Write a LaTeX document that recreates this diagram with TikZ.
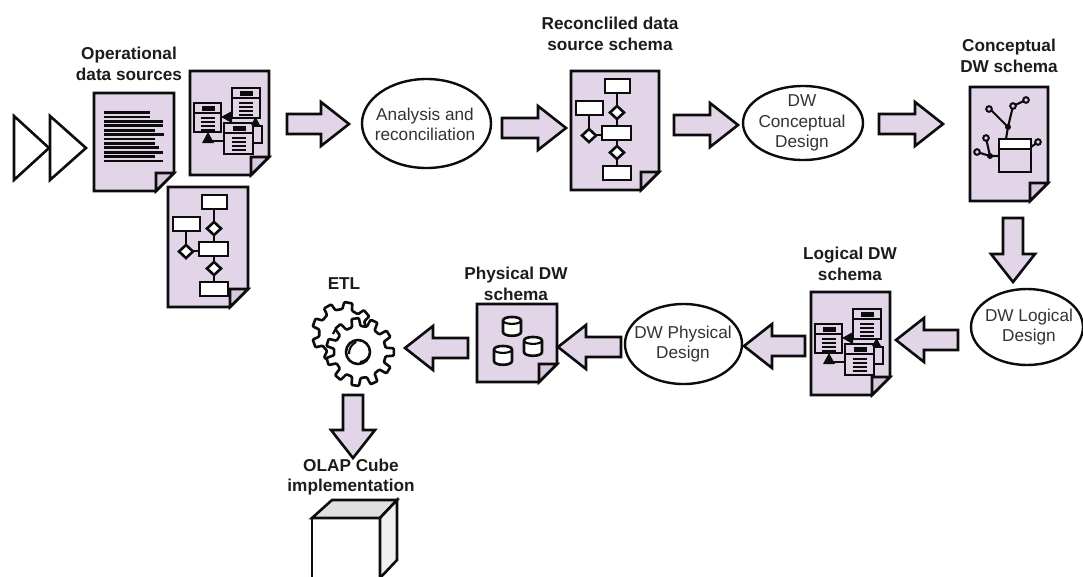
\documentclass[tikz,border=0pt]{standalone}
\usepackage{fontspec}
\setmainfont{Liberation Sans}
\usetikzlibrary{calc,shapes.geometric}
\definecolor{lilac}{HTML}{E2D5E8}
\definecolor{fold}{HTML}{D6C8DE}
\definecolor{inkc}{HTML}{0C0C0C}
\definecolor{txt}{HTML}{1C1C1C}
\definecolor{txtg}{HTML}{333333}
\tikzset{
 ln/.style={draw=inkc,line width=2.6pt,line join=miter},
 thin ln/.style={draw=inkc,line width=2.1pt},
 ell/.style={draw=inkc,line width=2.4pt,fill=white,ellipse,inner sep=0pt},
 elltext/.style={font=\fontsize{17.2}{20.5}\selectfont,text=txtg,align=center,inner sep=0pt},
 title/.style={font=\fontsize{17.2}{20.5}\selectfont\bfseries,text=txt,align=center,inner sep=0pt},
 tline/.style={draw=inkc,line width=2.7pt},
}
% block arrow between two named coordinates
\newcommand{\blockarrow}[2]{%
 \draw[ln,fill=lilac]
  ($(#1)!10pt!90:(#2)$) --
  ($(#2)!28pt!(#1)!10pt!90:(#2)$) --
  ($(#2)!28pt!(#1)!22pt!90:(#2)$) --
  (#2) --
  ($(#2)!28pt!(#1)!22pt!-90:(#2)$) --
  ($(#2)!28pt!(#1)!10pt!-90:(#2)$) --
  ($(#1)!10pt!-90:(#2)$) -- cycle;}
% page with folded corner, origin at top left
\newcommand{\docpage}[2]{%
 \draw[ln,fill=lilac] (0,0) -- (#1,0) -- ({#1},{#2-18}) -- ({#1-18},#2) -- (0,#2) -- cycle;
 \draw[ln,fill=fold] ({#1},{#2-18}) -- ({#1-18},{#2-18}) -- ({#1-18},#2) -- cycle;}
\newcommand{\flowicon}{%
 \draw[thin ln] (46,21) -- (46,94);
 \draw[thin ln] (18,43) -- (18,64) -- (32,64);
 \draw[ln,fill=white] (34,8) rectangle (59,22);
 \draw[ln,fill=white] (5,30) rectangle (32,44);
 \draw[ln,fill=white] (31,55) rectangle (60,69);
 \draw[ln,fill=white] (32,95) rectangle (60,109);
 \foreach \cx/\cy in {46/41.5,18/64.5,46/81.5}
  \draw[ln,fill=white] ({\cx-7},\cy) -- (\cx,{\cy-6.5}) -- ({\cx+7},\cy) -- (\cx,{\cy+6.5}) -- cycle;}
% small table: x1 y1 x2 y2
\newcommand{\tbl}[4]{%
 \draw[ln,fill=lilac] (#1,#2) rectangle (#3,#4);
 \draw[thin ln] (#1,{#2+10}) -- (#3,{#2+10});
 \fill[inkc] ({(#1+#3)/2-6},{#2+3}) rectangle ({(#1+#3)/2+7},{#2+8});
 \foreach \k in {14.5,18.8,23,27}
  \draw[line width=2pt,draw=inkc] ({(#1+#3)/2-7},{#2+\k}) -- ({(#1+#3)/2+7},{#2+\k});}
\newcommand{\ericon}{%
 \draw[thin ln] (34,70) -- (18,70);
 \fill[inkc] (12,72) -- (18,61) -- (24,72) -- cycle;
 \draw[thin ln] (63,55) -- (72,55) -- (72,72) -- (63,72);
 \tbl{42}{17}{70}{47}
 \tbl{4}{32}{31}{61}
 \fill[inkc] (31,46) -- (42,40) -- (42,52) -- cycle;
 \tbl{34}{52}{63}{83}
 \fill[inkc] (61,54) -- (65.5,46) -- (70,54) -- cycle;}
\newcommand{\cyl}[2]{%
 \begin{scope}[shift={(#1,#2)}]
 \draw[ln,fill=white] (-9,3.5) -- (-9,15) .. controls (-9,20) and (9,20) .. (9,15) -- (9,3.5) .. controls (9,-1.2) and (-9,-1.2) .. (-9,3.5) -- cycle;
 \draw[thin ln] (-9,3.5) .. controls (-9,8) and (9,8) .. (9,3.5);
 \end{scope}}
% gear
\newcommand{\gear}[5]{%#1 cx #2 cy #3 r in #4 r out #5 teeth
 \pgfmathsetmacro{\stp}{360/#5}
 \draw[ln,fill=white,rounded corners=1pt,shift={(#1,#2)}]
  ({-\stp*0.29}:#3)
  \foreach \i in {1,...,#5}{
    -- ({(\i-1)*\stp-\stp*0.29}:#3)
    -- ({(\i-1)*\stp-\stp*0.19}:#4)
    -- ({(\i-1)*\stp+\stp*0.19}:#4)
    -- ({(\i-1)*\stp+\stp*0.29}:#3)
  } -- cycle;}
\begin{document}
\begin{tikzpicture}[x=1pt,y=-1pt]
\useasboundingbox (0,0) rectangle (1083,576);
\fill[white] (0,0) rectangle (1083,576);

% entry triangles
\draw[ln,fill=white] (14,116) -- (49,148) -- (14,180) -- cycle;
\draw[ln,fill=white] (50,116) -- (86,148) -- (50,180) -- cycle;

% source pages
\begin{scope}[shift={(94,93)}]
 \docpage{80}{98}
 \foreach \yy/\xx in {24/56,28.4/69,32.8/69,37.2/61,41.6/70,46/61,50.4/61,54.8/65,59.2/69,63.6/61,68/69}
  \draw[tline] (10,\yy) -- (\xx,\yy);
 \draw[tline] (10,19.6) -- (56,19.6);
\end{scope}
\begin{scope}[shift={(190,71)}]\docpage{79}{104}\ericon\end{scope}
\begin{scope}[shift={(168,187)}]\docpage{80}{120}\flowicon\end{scope}

% reconciled
\begin{scope}[shift={(571,71)}]\docpage{88}{119}\flowicon\end{scope}

% conceptual
\begin{scope}[shift={(970,87)}]\docpage{78}{114}\end{scope}
\draw[thin ln] (1006,139) -- (1008,127) -- (990,109);
\draw[thin ln] (1008,127) -- (1013,106) -- (1026,100);
\draw[thin ln] (999,156) -- (990,156) -- (977,152);
\draw[thin ln] (990,156) -- (986,138);
\draw[thin ln] (1031,147) -- (1038,142);
\draw[ln,fill=lilac] (999,139) rectangle (1031,172);
\draw[ln,fill=white] (999,139) rectangle (1031,149);
\foreach \px/\py in {989/109,1013/106,1026/100,986/138,977/152,1038/142}
 \draw[line width=2pt,draw=inkc,fill=lilac] (\px,\py) circle[radius=2.8];
\foreach \px/\py in {1008/127,990/156}
 \fill[inkc] (\px,\py) circle[radius=3];

% logical
\begin{scope}[shift={(811,292)}]\docpage{79}{103}\ericon\end{scope}

% physical
\begin{scope}[shift={(477,304)}]\docpage{80}{78}\end{scope}
\cyl{512}{317}
\cyl{533}{337}
\cyl{503}{346}

% ellipses
\node[ell,minimum width=129pt,minimum height=89pt] (analysis) at (426.5,123.5) {};
\node[elltext] (analysistext) at (425,124.5) {Analysis and\\reconciliation};
\node[ell,minimum width=120pt,minimum height=74pt] (concept) at (803,123) {};
\node[elltext] (concepttext) at (802,123) {DW\\Conceptual\\Design};
\node[ell,minimum width=112pt,minimum height=76pt] (logic) at (1027,327) {};
\node[elltext] (logictext) at (1029,327) {DW Logical\\Design};
\node[ell,minimum width=117pt,minimum height=80pt] (phys) at (683.5,344) {};
\node[elltext] (phystext) at (683,344) {DW Physical\\Design};

% gears
\gear{343}{333}{24}{31}{9}
\draw[thin ln] (333,334) to[bend left=35] (344,326);
\gear{360}{352}{26}{34}{11}
\draw[ln] (358,352) circle[radius=12];
\draw[thin ln] (349,354) to[bend left=30] (356,342);
\draw[thin ln] (360,362) to[bend right=25] (369,356);

% cube (runs off the page)
\begin{scope}
 \clip (0,0) rectangle (1083,576);
 \draw[ln,fill=white] (312,518) rectangle (380,590);
 \draw[ln,fill=black!12] (312,518) -- (332,500) -- (397,500) -- (380,518) -- cycle;
 \draw[ln,fill=black!6] (380,518) -- (397,500) -- (397,560) -- (380,578) -- cycle;
\end{scope}

% block arrows
\foreach \n/\ax/\ay/\bx/\by in {
 a/287/124/349/124, b/502/128/566/128, c/674/125/738/125, d/879/124/943/124,
 e/1013/218/1013/282, f/958/340/896/340, g/805/346/744/346, h/621/347/558/347,
 i/468/348/405/348, j/353/395/353/458}{
 \coordinate (\n0) at (\ax,\ay);
 \coordinate (\n1) at (\bx,\by);
 \blockarrow{\n0}{\n1}
}

% labels
\node[title] (l1) at (129,64) {Operational\\data sources};
\node[title] (l2) at (610,34) {Reconcliled data\\source schema};
\node[title] (l3) at (1009,56) {Conceptual\\DW schema};
\node[title] (l4) at (850,264) {Logical DW\\schema};
\node[title] (l5) at (516,284) {Physical DW\\schema};
\node[title] (l6) at (344,284) {ETL};
\node[title] (l7) at (351,477) {OLAP Cube\\implementation};
\end{tikzpicture}
\end{document}
